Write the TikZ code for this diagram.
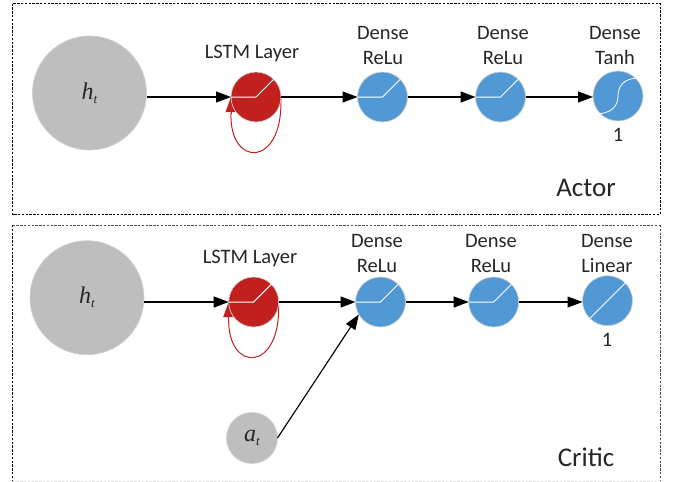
\documentclass[tikz,border=0pt]{standalone}
\usepackage{fontspec}
\setmainfont{Carlito}
\newfontfamily\symfont{Liberation Serif}
\usetikzlibrary{arrows.meta,backgrounds}
\definecolor{lstmred}{HTML}{C1201F}
\definecolor{denseblue}{HTML}{5099D4}
\definecolor{inputgray}{HTML}{BEBEBE}
\definecolor{rimgray}{HTML}{D0D0D0}
\definecolor{labeltext}{HTML}{262626}
\newcommand{\vsym}[2]{{\symfont\itshape\fontsize{24}{24}\selectfont #1\raisebox{-4pt}{\fontsize{13}{13}\selectfont #2}}}
\newcommand{\fs}{\fontsize{20.5}{25}\selectfont}
\tikzset{
  x=1pt,y=-1pt,
  neuron/.style={circle,inner sep=0pt,outer sep=0pt,draw=rimgray,line width=.7pt},
  inputnode/.style={neuron,fill=inputgray,text=labeltext},
  lstmnode/.style={neuron,fill=lstmred,minimum size=50pt},
  densenode/.style={neuron,fill=denseblue,minimum size=50pt},
  link/.style={draw=black,line width=1.15pt,-{Triangle[length=15pt,width=11pt]}},
  loopback/.style={draw=lstmred,line width=1pt},
  looptip/.style={draw=lstmred,line width=0pt,-{Triangle[length=15pt,width=11pt]}},
  activation/.style={draw=white,line width=1pt},
  caption/.style={align=center,text=labeltext,font=\fs,inner sep=0pt},
  boxname/.style={text=labeltext,font=\fontsize{27}{30}\selectfont,inner sep=0pt},
  frame/.style={line width=.8pt,dash pattern=on 2.4pt off 1.4pt},
}
\begin{document}
\begin{tikzpicture}
\useasboundingbox (0,0) rectangle (678,482);
% frames
\draw[frame,draw=black] (12.5,3.5) rectangle (660,214.5);
\draw[frame,draw=black!70] (12.5,225) -- (660,225);
\draw[frame,draw=black] (12.5,225) -- (12.5,481);
\draw[frame,draw=black!70] (660,225) -- (660,481);
\draw[frame,draw=black!12] (12.5,481) -- (660,481);
% actor
\node[inputnode,minimum size=114pt] (h1) at (89.5,93) {\vsym{h}{t}};
\node[lstmnode] (l1) at (256,97) {};
\node[densenode] (a1) at (382.5,97) {};
\node[densenode] (a2) at (500.5,97) {};
\node[densenode] (a3) at (618,96) {};
\foreach \n in {l1,a1,a2}{\draw[activation] (\n.west) -- (\n.center) -- (\n.45);}
\draw[activation,line width=.8pt] (a3.225) .. controls (612,112) and (618,106) .. (618,96) .. controls (618,86) and (624,79) .. (a3.45);
\draw[link] (h1.east |- l1.west) -- (l1.west);
\draw[link] (l1.east) -- (a1.west);
\draw[link] (a1.east) -- (a2.west);
\draw[link] (a2.east) -- (a3.west |- a2.east);
\coordinate (l1b) at (231,113);
\begin{scope}[on background layer]
\draw[loopback] (l1.-5) .. controls (283,168) and (229,168) .. (l1b);
\draw[looptip] (l1b) -- (l1.west);
\end{scope}
\node[caption] (t1) at (252,53) {LSTM Layer};
\node[caption] (t2) at (383,45.5) {Dense\\ReLu};
\node[caption] (t3) at (503,45.5) {Dense\\ReLu};
\node[caption] (t4) at (615,45.5) {Dense\\Tanh};
\node[caption] (t5) at (618,135) {1};
\node[boxname] (actor) at (586,188) {Actor};
% critic
\node[inputnode,minimum size=114pt] (h2) at (87,297.7) {\vsym{h}{t}};
\node[lstmnode] (l2) at (253.7,302) {};
\node[densenode] (c1) at (380.5,302) {};
\node[densenode] (c2) at (493.7,302) {};
\node[densenode] (c3) at (607.5,300.7) {};
\node[inputnode,minimum size=51pt] (at) at (252,438) {\vsym{a}{t}};
\foreach \n in {l2,c1,c2}{\draw[activation] (\n.west) -- (\n.center) -- (\n.45);}
\draw[activation] (c3.225) -- (c3.45);
\draw[link] (h2.east |- l2.west) -- (l2.west);
\draw[link] (l2.east) -- (c1.west);
\draw[link] (c1.east) -- (c2.west);
\draw[link] (c2.east) -- (c3.west |- c2.east);
\draw[link] (at.east) -- (c1.210);
\coordinate (l2b) at (228.7,318);
\begin{scope}[on background layer]
\draw[loopback] (l2.-5) .. controls (281,373) and (227,373) .. (l2b);
\draw[looptip] (l2b) -- (l2.west);
\end{scope}
\node[caption] (u1) at (250,258) {LSTM Layer};
\node[caption] (u2) at (377,253.5) {Dense\\ReLu};
\node[caption] (u3) at (491,253.5) {Dense\\ReLu};
\node[caption] (u4) at (607,253.5) {Dense\\Linear};
\node[caption] (u5) at (607,340) {1};
\node[boxname] (critic) at (586,457) {Critic};
\end{tikzpicture}
\end{document}
